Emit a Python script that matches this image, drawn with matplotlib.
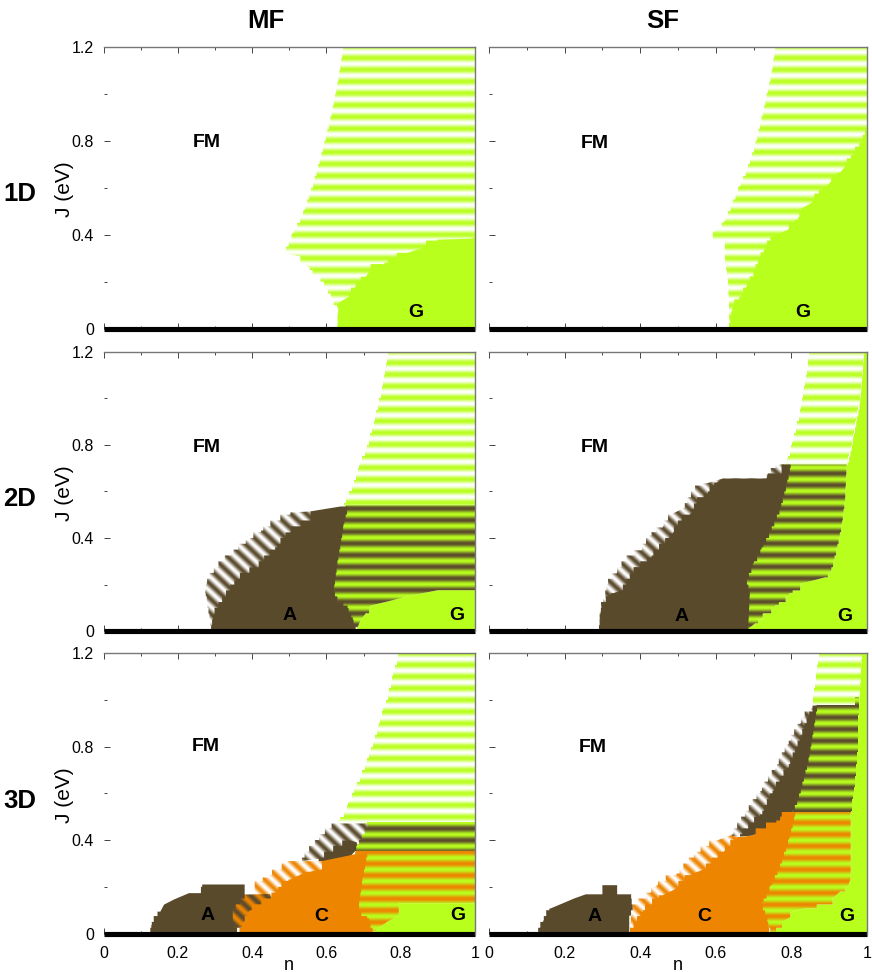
import numpy as np
import matplotlib
matplotlib.use('Agg')
import matplotlib.pyplot as plt
from matplotlib.patches import Polygon
from matplotlib.ticker import MultipleLocator

plt.rcParams['font.family'] = ['Liberation Sans', 'DejaVu Sans']

# phase boundaries: n and J (eV) along each region outline
# 1D MF
mf1_fg_n = [.645, .629, .611, .593, .566, .539, .508, .484, .530, .530, .555, .584, .603, .616, .63, .63, 1, 1]
mf1_fg_J = [1.2, 1.045, .903, .79, .634, .506, .408, .323, .307, .28, .26, .221, .179, .136, .094, 0, 0, 1.2]
mf1_g_n = [.63, .633, .66, .679, .706, .719, .765, .819, .862, .903, .989, 1, 1]
mf1_g_J = [0, .11, .136, .179, .221, .251, .281, .323, .345, .379, .383, .39, 0]
# 1D SF
sf1_fg_n = [.757, .748, .735, .721, .704, .682, .66, .642, .62, .592, .592, .624, .624, .632, .635, .635, 1, 1]
sf1_fg_J = [1.2, 1.102, 1.003, .903, .79, .685, .606, .536, .457, .414, .38, .371, .31, .223, .123, 0, 0, 1.2]
sf1_g_n = [.635, .646, .668, .682, .699, .712, .73, .751, .791, .818, .831, .854, .88, .902, .929, .942, .964, .986, 1, 1]
sf1_g_J = [0, .095, .137, .18, .223, .28, .336, .393, .421, .464, .515, .536, .591, .62, .664, .69, .74, .79, .847, 0]
# 2D MF
mf2_fg_n = [.766, .755, .742, .724, .706, .687, .673, .647, .647, 1, 1]
mf2_fg_J = [1.2, 1.096, .997, .882, .784, .711, .639, .552, .53, .53, 1.2]
mf2_ag_n = [.657, 1, 1, .9, .819, .771, .719, .706, .692, .684, .66, .61, .61]
mf2_ag_J = [.54, .54, .176, .176, .15, .13, .11, .077, .047, .017, .017, .19, .40]
mf2_g_n = [.68, 1, 1, .9, .819, .771, .719, .706, .692, .684]
mf2_g_J = [0, 0, .176, .176, .15, .13, .11, .077, .047, .017]
mf2_af_n = [.29, .274, .279, .306, .35, .395, .43, .476, .514, .557, .63, .64, .557, .417]
mf2_af_J = [0, .163, .21, .27, .334, .39, .432, .475, .51, .514, .52, .535, .40, .15]
mf2_a_n = [.29, .296, .328, .36, .417, .468, .503, .557, .557, .638, .657, .646, .63, .62, .63, .657, .671, .684]
mf2_a_J = [0, .068, .146, .218, .274, .36, .424, .475, .514, .535, .535, .46, .304, .188, .146, .11, .06, 0]
# 2D SF
sf2_g_n = [.685, 1, 1, .992, .986, .981, .973, .964, .956, .946, .942, .933, .92, .906, .889, .827, .794, .757, .725, .704, .688]
sf2_g_J = [0, 0, 1.2, 1.2, 1.068, .982, .912, .839, .768, .711, .574, .462, .36, .274, .231, .205, .163, .111, .077, .034, .013]
sf2_fg_n = [.847, .84, .831, .823, .813, .802, .789, .78, .946, .956, .964, .973, .981, .986, .992]
sf2_fg_J = [1.2, 1.11, 1.04, .955, .882, .811, .741, .70, .70, .768, .839, .912, .982, 1.068, 1.2]
sf2_ag_n = [.774, .946, .942, .933, .92, .906, .889, .827, .794, .757, .725, .704, .688, .685, .66, .66, .74]
sf2_ag_J = [.715, .715, .574, .462, .36, .274, .231, .205, .163, .111, .077, .034, .013, 0, 0, .30, .60]
sf2_af_n = [.291, .294, .307, .315, .338, .364, .404, .43, .46, .487, .518, .545, .575, .619, .735, .764, .78, .78, .70, .40]
sf2_af_J = [0, .09, .146, .205, .248, .304, .347, .411, .445, .505, .531, .604, .634, .655, .655, .711, .715, .60, .40, .10]
sf2_a_n = [.291, .298, .328, .354, .381, .43, .466, .487, .51, .536, .549, .579, .602, .619, .735, .738, .774, .774, .798, .787, .77, .743, .721, .698, .682, .69, .685]
sf2_a_J = [0, .103, .163, .176, .248, .317, .377, .42, .475, .505, .548, .591, .638, .655, .655, .677, .677, .715, .715, .634, .531, .432, .36, .291, .227, .176, 0]
# 3D MF
mf3_fg_n = [.794, .78, .766, .753, .739, .725, .709, .695, .677, .659, .632, .632, 1, 1]
mf3_fg_J = [1.2, 1.12, 1.033, .964, .89, .82, .749, .691, .634, .562, .484, .47, .47, 1.2]
mf3_ag_n = [.71, 1, 1, .678, .682]
mf3_ag_J = [.477, .477, .354, .354, .39]
mf3_cg_n = [.68, 1, 1, .795, .795, .764, .746, .731, .70, .66, .66]
mf3_cg_J = [.354, .354, .13, .13, .076, .051, .03, .009, .009, .11, .137]
mf3_g_n = [.73, 1, 1, .795, .795, .764, .746, .731]
mf3_g_J = [0, 0, .13, .13, .076, .051, .03, .009]
mf3_af_n = [.629, .71, .682, .665, .534, .569, .596]
mf3_af_J = [.471, .471, .382, .339, .31, .382, .425]
mf3_a2_n = [.665, .682, .678, .665, .624, .579]
mf3_a2_J = [.398, .39, .354, .332, .31, .31]
mf3_cf_n = [.407, .443, .479, .502, .588, .588, .452, .407]
mf3_cf_J = [.203, .24, .274, .31, .31, .27, .152, .16]
mf3_ac_n = [.348, .37, .448, .452, .393, .38, .34, .33]
mf3_ac_J = [.109, .167, .169, .152, .094, .051, 0, .066]
mf3_a_n = [.126, .13, .153, .163, .19, .23, .262, .267, .38, .38, .348, .348, .366]
mf3_a_J = [0, .037, .094, .124, .146, .173, .173, .21, .21, .173, .109, .066, 0]
mf3_c_n = [.366, .38, .393, .452, .47, .502, .542, .588, .588, .655, .71, .697, .688, .688, .715, .73]
mf3_c_J = [0, .051, .094, .152, .188, .231, .261, .274, .31, .332, .351, .24, .137, .11, .066, 0]
# 3D SF
sf3_g_n = [.744, 1, 1, .986, .98, .957, .957, .952, .929, .909, .837, .797, .797, .775]
sf3_g_J = [0, 0, 1.2, 1.2, 1.012, .52, .236, .214, .18, .15, .107, .092, .07, .049]
sf3_fg_n = [.874, .867, .86, .854, .968, .98, .984, .986]
sf3_fg_J = [1.2, 1.135, 1.05, .97, .97, 1.012, 1.09, 1.2]
sf3_ag_n = [.868, .968, .968, .98, .98, .977, .975, .971, .957, .802]
sf3_ag_J = [.977, .977, 1.012, 1.012, .977, .934, .797, .70, .52, .52]
sf3_cg_n = [.79, .957, .957, .952, .929, .909, .837, .797, .797, .775, .744, .72, .70, .72, .75, .77]
sf3_cg_J = [.52, .52, .236, .214, .18, .15, .107, .092, .07, .049, 0, .077, .135, .207, .3, .408]
sf3_af_n = [.642, .677, .722, .762, .793, .824, .847, .868, .802, .70]
sf3_af_J = [.415, .5, .61, .71, .81, .897, .955, .98, .52, .42]
sf3_a2_n = [.868, .846, .82, .802, .78, .77, .70, .664, .723, .753, .793, .824, .847]
sf3_a2_J = [.977, .754, .595, .52, .52, .484, .42, .415, .51, .61, .71, .83, .93]
sf3_cf_n = [.373, .38, .415, .447, .504, .549, .603, .638, .664, .574, .46, .407]
sf3_cf_J = [.02, .107, .15, .207, .257, .338, .398, .42, .413, .25, .06, .05]
sf3_c_n = [.373, .407, .46, .496, .54, .574, .624, .664, .7, .77, .78, .81, .793, .77, .744, .722, .736, .744]
sf3_c_J = [0, .092, .164, .193, .257, .278, .354, .413, .42, .484, .52, .52, .408, .3, .207, .135, .077, 0]
sf3_a_n = [.13, .145, .162, .193, .225, .256, .3, .3, .339, .339, .376, .38, .371, .371]
sf3_a_J = [.006, .056, .107, .128, .15, .168, .168, .207, .207, .168, .168, .12, .077, 0]

GREEN = '#b9ff1e'
BROWN = '#5a4a2c'
ORANGE = '#ee8500'
WHITE = '#ffffff'

# texture name -> (colour at peak, colour at trough, pattern)
textures = {
    'fg': (GREEN, WHITE, 'h'),
    'ag': (GREEN, BROWN, 'h'),
    'cg': (GREEN, ORANGE, 'h'),
    'ag2': (BROWN, GREEN, 'h'),
    'cg2': (ORANGE, GREEN, 'h'),
    'af': (BROWN, WHITE, 'd'),
    'cf': (ORANGE, WHITE, 'd'),
    'ac': (BROWN, ORANGE, 'd'),
}
solids = {'g': GREEN, 'a': BROWN, 'c': ORANGE}

panels = [
    [('fg', mf1_fg_n, mf1_fg_J), ('g', mf1_g_n, mf1_g_J)],
    [('fg', sf1_fg_n, sf1_fg_J), ('g', sf1_g_n, sf1_g_J)],
    [('fg', mf2_fg_n, mf2_fg_J), ('g', mf2_g_n, mf2_g_J), ('ag', mf2_ag_n, mf2_ag_J),
     ('af', mf2_af_n, mf2_af_J), ('a', mf2_a_n, mf2_a_J)],
    [('g', sf2_g_n, sf2_g_J), ('fg', sf2_fg_n, sf2_fg_J), ('ag', sf2_ag_n, sf2_ag_J),
     ('af', sf2_af_n, sf2_af_J), ('a', sf2_a_n, sf2_a_J)],
    [('fg', mf3_fg_n, mf3_fg_J), ('g', mf3_g_n, mf3_g_J), ('ag2', mf3_ag_n, mf3_ag_J),
     ('cg2', mf3_cg_n, mf3_cg_J), ('af', mf3_af_n, mf3_af_J), ('a', mf3_a2_n, mf3_a2_J),
     ('cf', mf3_cf_n, mf3_cf_J), ('ac', mf3_ac_n, mf3_ac_J), ('a', mf3_a_n, mf3_a_J),
     ('c', mf3_c_n, mf3_c_J)],
    [('g', sf3_g_n, sf3_g_J), ('fg', sf3_fg_n, sf3_fg_J), ('ag', sf3_ag_n, sf3_ag_J),
     ('cg', sf3_cg_n, sf3_cg_J), ('af', sf3_af_n, sf3_af_J), ('a', sf3_a2_n, sf3_a2_J),
     ('cf', sf3_cf_n, sf3_cf_J), ('c', sf3_c_n, sf3_c_J), ('a', sf3_a_n, sf3_a_J)],
]

labels = [
    [('FM', .278, .794), ('G', .841, .067)],
    [('FM', .28, .79), ('G', .83, .07)],
    [('FM', .279, .79), ('A', .502, .067), ('G', .952, .067)],
    [('FM', .28, .79), ('A', .51, .063), ('G', .942, .063)],
    [('FM', .276, .80), ('A', .279, .076), ('C', .585, .071), ('G', .954, .076)],
    [('FM', .275, .795), ('A', .278, .071), ('C', .569, .071), ('G', .947, .071)],
]

W, H = 872, 972
fig = plt.figure(figsize=(W / 100, H / 100), dpi=100)

col_x = [(103.5, 475), (489, 867)]
row_y = [(46.7, 328.7), (351.5, 631.2), (653, 933.6)]

grid_n, grid_J = np.meshgrid(np.linspace(0, 1, 800), np.linspace(0, 1.2, 1200))
horizontal = 0.5 + 0.5 * np.cos(2 * np.pi * grid_J / 0.05)
diagonal = 0.5 + 0.5 * np.cos(2 * np.pi * (grid_n / 0.042 + grid_J / 0.0625))


def rgb(name):
    return np.array(matplotlib.colors.to_rgb(name))


def stair(n, J, step=0.025):
    # the original is a coarse map, so slanted edges come out as small steps
    out = []
    for i in range(len(n)):
        n0, J0 = n[i], J[i]
        n1, J1 = n[(i + 1) % len(n)], J[(i + 1) % len(n)]
        out.append((n0, J0))
        if abs(J1 - J0) > 0.03:
            levels = np.arange(np.ceil(min(J0, J1) / step) * step, max(J0, J1), step)
            if J1 < J0:
                levels = levels[::-1]
            cur = n0
            for level in levels:
                x = n0 + (n1 - n0) * (level - J0) / (J1 - J0)
                out.append((cur, level))
                out.append((x, level))
                cur = x
            out.append((cur, J1))
    return np.array(out)


def draw_region(ax, kind, n, J):
    xy = stair(n, J)
    if kind in solids:
        ax.fill(xy[:, 0], xy[:, 1], color=solids[kind], lw=0, zorder=2)
        return
    c1, c2, pattern = textures[kind]
    w = diagonal if pattern == 'd' else horizontal
    img = w[..., None] * rgb(c1) + (1 - w[..., None]) * rgb(c2)
    im = ax.imshow(img, extent=[0, 1, 0, 1.2], origin='lower', aspect='auto',
                   interpolation='bilinear', zorder=2)
    im.set_clip_path(Polygon(xy, closed=True, transform=ax.transData))


for i, regions in enumerate(panels):
    row, col = i // 2, i % 2
    x0, x1 = col_x[col]
    y0, y1 = row_y[row]
    ax = fig.add_axes([x0 / W, 1 - y1 / H, (x1 - x0) / W, (y1 - y0) / H])
    for kind, n, J in regions:
        draw_region(ax, kind, n, J)
    ax.set_xlim(0, 1)
    ax.set_ylim(0, 1.2)
    ax.plot([0, 1], [0, 0], color='black', lw=3.7, solid_capstyle='butt', clip_on=False, zorder=5)

    for s in ['top', 'right']:
        ax.spines[s].set_color('#777777')
        ax.spines[s].set_linewidth(1.0)
        ax.spines[s].set_zorder(6)
    ax.spines['left'].set_visible(False)
    ax.spines['bottom'].set_visible(False)

    ax.xaxis.set_major_locator(MultipleLocator(0.2))
    ax.xaxis.set_minor_locator(MultipleLocator(0.1))
    ax.yaxis.set_major_locator(MultipleLocator(0.4))
    ax.yaxis.set_minor_locator(MultipleLocator(0.2))
    ax.tick_params(which='major', direction='in', top=True, right=True, length=4.5, width=0.7,
                   color='#444444', labelsize=11.5, zorder=6)
    ax.tick_params(which='minor', direction='in', top=True, right=True, length=2.5, width=0.7,
                   color='#444444', zorder=6)
    ax.tick_params(axis='y', which='major', pad=7)
    ax.tick_params(axis='x', which='major', pad=9)
    ax.set_xticks([0, .2, .4, .6, .8, 1])
    ax.set_xticklabels(['0', '0.2', '0.4', '0.6', '0.8', '1'] if row == 2 else [])
    ax.set_yticks([0, .4, .8, 1.2])
    ax.set_yticklabels(['0', '0.4', '0.8', '1.2'] if col == 0 else [])

    for text, n, J in labels[i]:
        ax.text(n, J, text, fontsize=14, fontweight='bold', ha='center', va='center', zorder=7)

    if col == 0:
        fig.text(65 / W, 1 - (y0 + 142) / H, 'J (eV)', rotation=90, fontsize=15, ha='center', va='center')
        fig.text(20 / W, 1 - (y0 + 147.5) / H, f'{row + 1}D', fontsize=18.5, fontweight='bold',
                 ha='center', va='center')
    if row == 2:
        fig.text((x0 + x1) / 2 / W, 1 - 965 / H, 'n', fontsize=13, ha='center', va='center')

fig.text(266 / W, 1 - 21 / H, 'MF', fontsize=18.5, fontweight='bold', ha='center', va='center')
fig.text(663 / W, 1 - 21 / H, 'SF', fontsize=18.5, fontweight='bold', ha='center', va='center')

fig.savefig('out.png', dpi=100)
